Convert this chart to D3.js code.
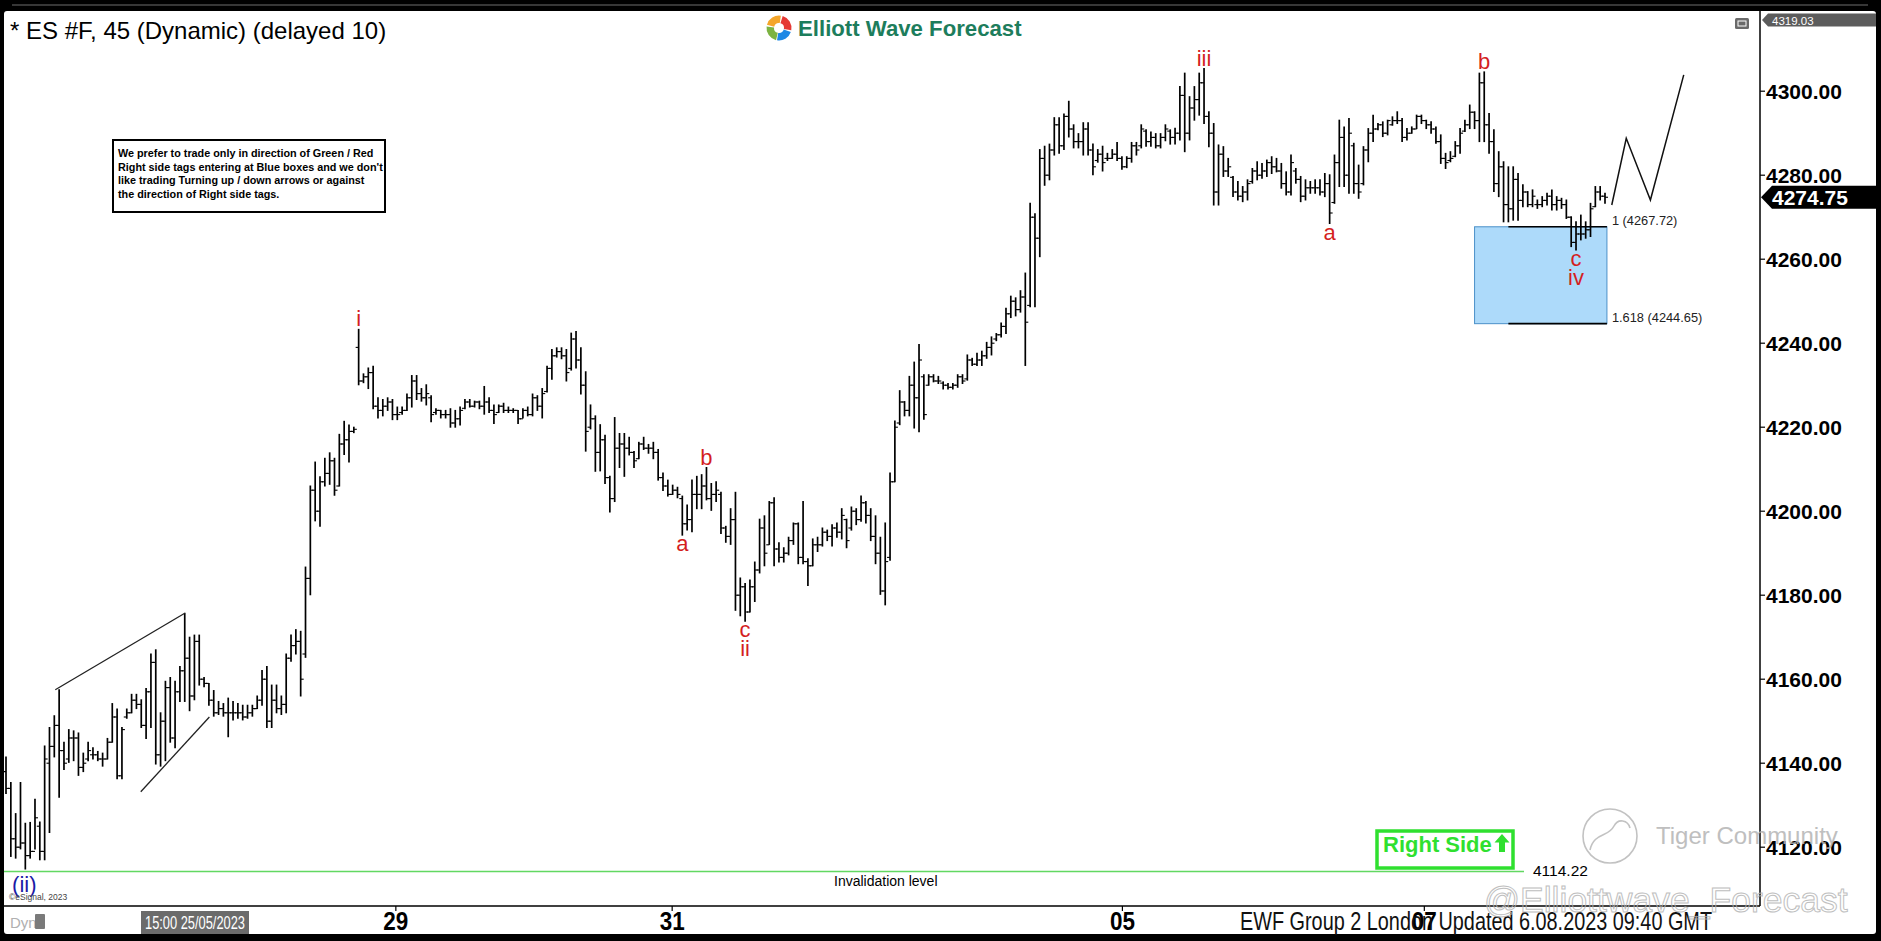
<!DOCTYPE html>
<html><head><meta charset="utf-8">
<script src="https://cdn.jsdelivr.net/npm/d3@7"></script>
<style>
body{margin:0;background:#000;overflow:hidden}
svg{display:block}
text{font-family:"Liberation Sans",Arial,sans-serif}
</style>
</head><body>
<svg id="c" width="1881" height="941"></svg>
<script>
// ---------- DATA ----------
const highs=[4141.5,4135.4,4128,4135.4,4125.7,4125.9,4131.4,4126,4144.1,4148.5,
4151.3,4157.5,4145,4148,4147.7,4147.2,4142.4,4145,4143.7,4142.8,
4142.4,4145.9,4154.2,4152.9,4148.5,4152.9,4156.4,4156.4,4155.1,4157.8,
4166,4167,4152,4159.5,4160.4,4159.5,4163,4175.7,4170,4170.5,
4170.5,4160.4,4159,4157.3,4154.7,4154.2,4155.5,4154.7,4154.2,4153.8,
4153.8,4153.8,4156,4162.1,4163,4158.6,4158.6,4156,4166,4170.5,
4171.8,4171.4,4186.7,4206,4211.7,4208.2,4212.6,4213.9,4212.6,4218.3,
4221.4,4220.5,4220,4243.3,4232.7,4234.1,4234.5,4227,4226.6,4227,
4226.6,4224.8,4224.8,4227.9,4232.3,4232.3,4229.2,4230.1,4227.5,4224.4,
4224,4224,4224.4,4224,4224.8,4226.6,4226.6,4226.2,4226.2,4229.7,
4227,4225.3,4225.3,4225.7,4224.8,4224.4,4224,4224.4,4224.8,4227.9,
4227.5,4229.2,4234.5,4238.5,4238.9,4238.9,4238.5,4242.4,4242.8,4238.9,
4233.2,4225.3,4222.7,4220.6,4218.1,4208.3,4222.3,4218.5,4218.5,4217.6,
4214.2,4216.4,4217.6,4215.9,4216.4,4214.7,4209.1,4207.4,4206.2,4205.7,
4203.6,4201.5,4207.4,4208.3,4208.7,4210.4,4206.6,4207,4204.5,4196.4,
4200.6,4204.5,4184.1,4182.8,4183.6,4187.9,4198.1,4198.9,4202.3,4203.2,
4192.5,4191.3,4193.8,4197.2,4197.2,4202.3,4188.7,4193.4,4193.8,4196,
4195.5,4196.8,4197.2,4200.6,4198.1,4201,4200.6,4203.6,4202.3,4200.6,
4198.9,4193.8,4197.2,4209.1,4221.5,4228.7,4226.1,4232.1,4235.5,4239.7,
4232.5,4232.5,4232.5,4232.1,4230.8,4230.4,4230.4,4232.5,4232.5,4237.2,
4236.4,4237.6,4238.1,4240.2,4241.5,4242.3,4244.8,4248.3,4251.2,4250.8,
4252.5,4256.7,4273.3,4270.8,4286.1,4286.9,4287.4,4293.7,4293.7,4294.6,
4297.6,4292,4289.9,4292.5,4292.5,4287.4,4286.1,4286.9,4285.2,4286.1,
4287.8,4284.4,4284.4,4287.8,4287.8,4292,4290.8,4290.3,4289.9,4289.9,
4292,4290.8,4291.2,4301.1,4304.3,4298.7,4301.1,4304.3,4305.4,4295.1,
4292.3,4287.2,4286.8,4284,4279.7,4278.5,4277.3,4278.9,4281.6,4283.2,
4282.8,4283.6,4284.4,4284,4282.8,4280.8,4284.8,4281.6,4279.7,4278.9,
4278.5,4278.9,4278.9,4280.4,4280.1,4284.8,4293.1,4291.5,4293.5,4287.6,
4282.4,4286.8,4291.1,4294.3,4292.3,4292.7,4293.1,4293.9,4295.1,4293.5,
4291.1,4291.5,4294.3,4294.3,4293.1,4292.7,4291.5,4289.6,4285.2,4285.6,
4288,4291.1,4293.1,4296.7,4295.1,4304.3,4304.6,4294.7,4290.8,4285.6,
4283.2,4282,4282,4280.4,4277.7,4276.1,4276.5,4274.1,4274.9,4275.7,
4276.5,4274.9,4274.5,4274.1,4270.1,4268.9,4270.5,4268.9,4273.3,4277.3,
4277.3,4275.7];
const lows=[4132.8,4117.8,4117.4,4119.6,4114.8,4117.4,4119.6,4117,4117,4123.5,
4141.5,4131.9,4138.5,4140.2,4140.6,4137.1,4138,4140.6,4141,4140.6,
4139.3,4141,4145,4136.3,4136.3,4150.7,4152,4153,4148.5,4145.9,
4148.5,4139.8,4139.3,4140.6,4145,4143.7,4154.7,4154.7,4152.5,4155.1,
4158.6,4158.2,4153.8,4151.2,4151.6,4151.2,4146.3,4150.3,4150.7,4150.3,
4150.7,4151.2,4153,4153.8,4148.5,4148.5,4152,4151.6,4152,4164.3,
4166,4156,4165.2,4180.1,4197.7,4196.4,4206,4206.4,4203.8,4206,
4213.5,4211.7,4218.7,4230.1,4230.6,4229.2,4224.4,4222.2,4222.7,4224,
4221.8,4221.8,4223.1,4224,4224.8,4226.6,4226.2,4225.3,4221.3,4223.1,
4222.2,4222.2,4220,4220,4220.5,4224.4,4224.8,4224.8,4224.4,4223.1,
4223.5,4220.9,4223.5,4223.5,4223.5,4223.5,4220.9,4222.2,4222.7,4222.7,
4224,4222.2,4228.4,4231.4,4236.7,4236.3,4231,4233.6,4234.1,4227.9,
4214.3,4219.6,4209.5,4209.6,4206.6,4199.8,4202.3,4210.4,4208.3,4213.4,
4210.4,4212.5,4214.7,4213.8,4212.5,4207.4,4204.9,4203.6,4204,4203.2,
4194.3,4195.5,4195.1,4200.6,4200.6,4202.7,4200.2,4202.3,4194.7,4192.6,
4192.1,4176.4,4175.1,4173.8,4176,4178.5,4185.3,4187,4192.1,4187,
4187.9,4187.9,4189.6,4192.1,4187.5,4187.5,4182.3,4187,4190.4,4191.7,
4193,4191.7,4193.8,4193.4,4191.3,4195.5,4196.8,4197.6,4197.2,4193,
4187.5,4180.2,4177.7,4188.3,4207,4220.6,4222.7,4222.7,4219.8,4218.9,
4221.9,4230,4230.8,4230.4,4229.1,4229.1,4229.1,4229.5,4230.4,4231.2,
4234.7,4234.7,4234.7,4236.4,4237.2,4240.6,4241.5,4242.3,4246.1,4246.5,
4247.4,4234.7,4248.7,4248.7,4260.6,4277.6,4278.9,4284.8,4285.2,4286.1,
4289.1,4286.5,4286.5,4284.8,4284.8,4280.1,4283.1,4281,4283.5,4284,
4283.5,4281.4,4281.8,4283.1,4284.8,4286.5,4286.9,4286.9,4286.5,4286.5,
4288.2,4287.4,4287.4,4288.4,4285.6,4288.4,4293.1,4294.3,4292.3,4286.8,
4272.9,4272.9,4279.7,4279.7,4274.9,4274.1,4273.7,4274.1,4278.1,4278.9,
4279.3,4279.7,4280.4,4280.8,4276.9,4275.3,4275.3,4278.1,4273.7,4274.1,
4275.7,4275.7,4275.3,4274.9,4268.5,4273.3,4277.3,4277.3,4275.7,4275.7,
4274.5,4277.7,4283.2,4288,4290.8,4289.2,4289.6,4291.9,4292.3,4288,
4288.4,4290,4291.1,4292.3,4291.1,4290,4287.6,4282.8,4281.6,4283.2,
4284.4,4285.2,4290.4,4291.1,4291.1,4288,4288,4285.2,4276.1,4274.9,
4268.9,4268.9,4269.3,4269.3,4272.5,4272.5,4272.5,4272.1,4272.5,4272.9,
4271.7,4271.7,4272.1,4269.7,4263,4262.2,4264.6,4265,4265.4,4272.5,
4274.1,4273.3];
const opens=[4138,4134,4122,4120,4121,4118,4119,4125,4119,4140,
4144,4149,4143,4141,4146,4146,4139,4141,4142,4142,
4141,4141,4145,4151,4137,4151,4152,4155,4154,4149,
4157,4164,4142,4150,4158,4146,4157,4162,4165,4156,
4169,4160,4159,4155,4152,4153,4152,4152,4152,4152,
4151,4152,4153,4155,4160,4150,4155,4153,4154,4165,
4168,4169,4166,4184,4205,4200,4207,4209,4212,4206,
4216,4217,4219,4239,4231,4232,4233,4225,4224,4225,
4226,4223,4223.5,4224,4227,4231,4228,4227,4227,4223.5,
4224,4223,4223,4221,4222,4224.5,4226,4225,4226,4225,
4226,4224,4223.5,4225,4224,4224,4224,4222,4224,4223,
4227,4225,4228.5,4234,4237,4238,4237,4234,4241,4236,
4230,4220,4222,4214,4217,4208,4203,4215,4216,4215,
4214,4212.5,4216,4215,4215,4214,4208,4206,4204,4205,
4203,4197,4198,4204,4204,4206,4203,4204,4204,4196,
4194,4198,4180,4182,4176,4182,4186,4196,4192,4202,
4191,4189,4190,4193,4197,4189,4188,4187,4192,4192,
4195,4194,4196,4195,4198,4196,4200,4198,4202,4199,
4194,4190,4181,4189,4207,4221,4226,4224,4230,4227,
4232,4230,4232,4231,4230.5,4230,4229.5,4230,4232,4231.5,
4236,4235,4236,4237,4239,4241,4242,4244,4247,4250,
4248,4251,4249,4270,4265,4284,4280,4286,4292,4287,
4294,4291,4288,4288,4291,4286,4283.5,4285,4284,4284,
4285,4284,4282,4284,4287,4287,4290.5,4288,4289,4287,
4289,4290.5,4289,4290,4299,4290,4296,4298,4302,4294,
4290,4276,4285,4281,4279.5,4276,4275,4276,4278.5,4281,
4280,4281,4283,4282,4281,4278,4276,4281,4279,4275,
4277,4277,4277,4276,4278,4273.5,4283,4289,4280,4287,
4278,4278,4286,4290,4291,4292,4290,4292,4293,4293,
4289,4290,4291,4294,4293,4292,4291,4288,4284,4283.5,
4284.5,4287,4290.5,4292,4295,4293,4302,4292,4288,4278,
4282,4273,4272,4279,4274,4276,4273,4273,4273,4274,
4275,4273,4274,4273,4270,4264,4266,4266,4267,4272.5,
4276,4275];
const closes=[4134,4122,4120,4121,4118,4119,4127,4119,4141,4144,
4149,4143,4140,4146,4146,4139,4140,4143,4142,4141,
4141,4145,4151,4137,4148,4152,4155,4154,4149,4157,
4164,4142,4150,4158,4146,4157,4162,4165,4156,4169,
4160,4159,4155,4152,4153,4152,4152,4152,4152,4151,
4152,4153,4155,4160,4150,4155,4153,4154,4165,4168,
4169,4160,4184,4205,4200,4207,4209,4212,4205,4216,
4217,4219,4219.5,4231,4232,4233,4225,4224,4225,4226,
4223,4223,4224,4227,4231,4228,4227,4228,4223,4224,
4223,4223,4221,4222,4224,4226,4225,4226,4225,4226,
4224,4223,4225,4224,4224,4224,4222,4224,4223,4227,
4225,4228,4234,4237,4238,4237,4233,4241,4236,4230,
4219,4222,4214,4217,4208,4203,4215,4216,4215,4214,
4212,4216,4215,4215,4214,4208,4206,4204,4205,4204,
4197,4198,4204,4204,4206,4203,4204,4205,4196,4194,
4198,4180,4182,4176,4182,4186,4196,4190,4202,4191,
4189,4190,4193,4197,4189,4188,4187,4192,4192,4195,
4194,4196,4195,4199,4193,4200,4198,4202,4199,4194,
4190,4181,4188,4207,4220,4226,4224,4230,4227,4236,
4223,4232,4231,4231,4230,4229.5,4230,4232,4231,4236,
4235,4236,4237,4239,4240,4242,4244,4247,4250,4248,
4251,4245,4270,4265,4284,4280,4286,4292,4287,4294,
4291,4288,4288,4291,4286,4282,4285,4283,4284,4285,
4284,4282,4284,4287,4286,4291,4288,4289,4287,4289,
4291,4289,4290,4299,4290,4296,4298,4302,4294,4290,
4276,4285,4281,4282,4276,4275,4276,4278,4281,4280,
4281,4283,4282,4281,4278,4276,4283,4279,4275,4277,
4277,4277,4276,4278,4271,4283,4289,4280,4290,4278,
4276,4286,4290,4291,4292,4290,4293,4293,4293,4289,
4290,4291,4294,4293,4292,4291,4288,4284,4283,4284,
4287,4290,4292,4295,4293,4302,4292,4288,4278,4282,
4273,4272,4279,4274,4276,4273,4275,4273,4274,4275,
4273,4274,4273,4270,4264,4266,4266,4267,4272,4276,
4275,4274.75];

const priceTicks=[4120,4140,4160,4180,4200,4220,4240,4260,4280,4300];
const dateLabels=["29","31","05","07"];
const dateBars=[80.7,137.9,231.1,293.6];

// wave labels (red, minor degree): bar index, text, anchored at high or low, stacked row
const minorLabels=[
 {bar:73,text:"i",at:"high",row:0},
 {bar:140,text:"a",at:"low",row:0},
 {bar:145,text:"b",at:"high",row:0},
 {bar:153,text:"c",at:"low",row:0},
 {bar:153,text:"ii",at:"low",row:1},
 {bar:248,text:"iii",at:"high",row:0},
 {bar:274,text:"a",at:"low",row:0},
 {bar:306,text:"b",at:"high",row:0},
 {bar:325,text:"c",at:"low",row:0},
 {bar:325,text:"iv",at:"low",row:1}
];
const intermediateLabels=[{bar:4,text:"(ii)",at:"low",row:0}];

const wedgeUpper=[{bar:10.2,p:4157.5},{bar:37,p:4175.7}];
const wedgeLower=[{bar:27.9,p:4133.2},{bar:42.1,p:4151.0}];
const projection=[{bar:332.4,p:4272.9},{bar:335.4,p:4288.8},{bar:340.4,p:4274.1},{bar:347.3,p:4303.9}];
const fibLevels=[{ratio:"1",p:4267.72},{ratio:"1.618",p:4244.65}];
const blueBoxBars=[304,331.4];
const fibLineStartBar=311;
const invalidation=4114.22;
const lastPrice=4274.75;
const topPrice="4319.03";

// ---------- SCALES ----------
const svg=d3.select("#c");
const W=1881,H=941;
const axisX=1760, axisY=906;
const x=d3.scaleLinear().domain([0,331]).range([6,1605]);
const y=d3.scaleLinear().domain([4120,4300]).range([847.2,91.2]);

// frame
svg.append("rect").attr("width",W).attr("height",H).attr("fill","#000");
svg.append("line").attr("x1",12).attr("x2",1868).attr("y1",5).attr("y2",5).attr("stroke","#4a4a4a").attr("stroke-width",1.5);
svg.append("rect").attr("x",4).attr("y",11).attr("width",1872).attr("height",923).attr("rx",3).attr("fill","#fff");

const defs=svg.append("defs");
defs.append("clipPath").attr("id","plot").append("rect").attr("x",4).attr("y",11).attr("width",axisX-4).attr("height",axisY-11);

// title
svg.append("text").attr("x",10).attr("y",39).attr("font-size",24).attr("fill","#000").text("* ES #F, 45 (Dynamic) (delayed 10)");

// logo
const lg=svg.append("g").attr("transform","translate(779,28)");
const arc=d3.arc().innerRadius(5).outerRadius(12.5);
[["#7cb342",-2.9,-1.45],["#f4a62a",-1.3,0.15],["#e53935",0.3,1.75],["#1e88e5",1.9,3.3]].forEach(a=>{
  lg.append("path").attr("d",arc({startAngle:a[1],endAngle:a[2]})).attr("fill",a[0]);
});
svg.append("text").attr("x",798).attr("y",36).attr("font-size",22.2).attr("font-weight","bold").attr("fill","#1d7d5c").text("Elliott Wave Forecast");

// note box
svg.append("rect").attr("x",113).attr("y",140).attr("width",272).attr("height",72).attr("fill","#fff").attr("stroke","#000").attr("stroke-width",2);
["We prefer to trade only in direction of Green / Red",
 "Right side tags entering at Blue boxes and we don't",
 "like trading Turning up / down arrows or against",
 "the direction of Right side tags."].forEach((t,i)=>{
  svg.append("text").attr("x",118).attr("y",157+i*13.5).attr("font-size",10.8).attr("font-weight","bold").attr("fill","#000").text(t);
});

const plotG=svg.append("g").attr("clip-path","url(#plot)");

// invalidation line
plotG.append("line").attr("x1",4).attr("x2",1524).attr("y1",y(invalidation)).attr("y2",y(invalidation)).attr("stroke","#62d862").attr("stroke-width",1.6);
svg.append("text").attr("x",1533).attr("y",y(invalidation)+5).attr("font-size",15.5).attr("fill","#000").text(invalidation.toFixed(2));
svg.append("text").attr("x",834).attr("y",886).attr("font-size",14).attr("fill","#000").text("Invalidation level");

// blue box
const bx0=x(blueBoxBars[0]),bx1=x(blueBoxBars[1]);
plotG.append("rect").attr("x",bx0).attr("y",y(fibLevels[0].p)).attr("width",bx1-bx0).attr("height",y(fibLevels[1].p)-y(fibLevels[0].p))
  .attr("fill","#addafa").attr("stroke","#4a90c8").attr("stroke-width",1);
fibLevels.forEach(f=>{
  plotG.append("line").attr("x1",x(fibLineStartBar)).attr("x2",bx1).attr("y1",y(f.p)).attr("y2",y(f.p)).attr("stroke","#000").attr("stroke-width",1.6);
  svg.append("text").attr("x",bx1+5).attr("y",y(f.p)-2).attr("font-size",12.8).attr("fill","#222").text(`${f.ratio} (${f.p.toFixed(2)})`);
});

// bars
const bars=plotG.append("g").attr("stroke","#000");
highs.forEach((h,i)=>{
  const xi=x(i);
  bars.append("line").attr("x1",xi).attr("x2",xi).attr("y1",y(h)-0.5).attr("y2",y(lows[i])+0.5).attr("stroke-width",1.7);
  bars.append("line").attr("x1",xi-3).attr("x2",xi).attr("y1",y(opens[i])).attr("y2",y(opens[i])).attr("stroke-width",1.1);
  bars.append("line").attr("x1",xi).attr("x2",xi+3).attr("y1",y(closes[i])).attr("y2",y(closes[i])).attr("stroke-width",1.1);
});

// wedge + projection lines
const ln=d3.line().x(d=>x(d.bar)).y(d=>y(d.p));
[wedgeUpper,wedgeLower].forEach(w=>plotG.append("path").attr("d",ln(w)).attr("fill","none").attr("stroke","#222").attr("stroke-width",1.3));
plotG.append("path").attr("d",ln(projection)).attr("fill","none").attr("stroke","#111").attr("stroke-width",1.5);

// wave labels
function drawLabels(list,color,size){
  list.forEach(l=>{
    const yy = l.at==="high" ? y(highs[l.bar])-3 : y(lows[l.bar])+16+l.row*19;
    svg.append("text").attr("x",x(l.bar)).attr("y",yy).attr("text-anchor","middle").attr("font-size",size).attr("fill",color).text(l.text);
  });
}
drawLabels(minorLabels,"#d41f1f",22);
intermediateLabels.forEach(l=>{
  svg.append("text").attr("x",x(l.bar)-1).attr("y",y(lows[l.bar])+23).attr("text-anchor","middle").attr("font-size",22).attr("fill","#1b1ba6").text(l.text);
});
svg.append("text").attr("x",9).attr("y",900).attr("font-size",8.5).attr("fill","#444").text("©eSignal, 2023");

// axes lines
svg.append("line").attr("x1",axisX).attr("x2",axisX).attr("y1",11).attr("y2",axisY).attr("stroke","#000").attr("stroke-width",1.5);
svg.append("line").attr("x1",4).attr("x2",axisX).attr("y1",axisY).attr("y2",axisY).attr("stroke","#000").attr("stroke-width",1.5);

// price axis
priceTicks.forEach(t=>{
  svg.append("line").attr("x1",axisX).attr("x2",axisX+5).attr("y1",y(t)).attr("y2",y(t)).attr("stroke","#000").attr("stroke-width",1.2);
  svg.append("text").attr("x",axisX+6).attr("y",y(t)+7.5).attr("font-size",21).attr("font-weight","bold").attr("fill","#000").text(t.toFixed(2));
});
// top price tag
svg.append("path").attr("d",`M${axisX+2},20 L${axisX+8},13.5 L1876,13.5 L1876,26.5 L${axisX+8},26.5 Z`).attr("fill","#5c5c5c");
svg.append("text").attr("x",axisX+12).attr("y",24.5).attr("font-size",11.5).attr("fill","#fff").text(topPrice);
// last price tag
const ly=y(lastPrice);
svg.append("path").attr("d",`M${axisX+1},${ly} L${axisX+12},${ly-11.5} L1876,${ly-11.5} L1876,${ly+11.5} L${axisX+12},${ly+11.5} Z`).attr("fill","#000");
svg.append("text").attr("x",axisX+12).attr("y",ly+7.5).attr("font-size",21).attr("font-weight","bold").attr("fill","#fff").text(lastPrice.toFixed(2));
// small window icon
svg.append("rect").attr("x",1735).attr("y",18).attr("width",14).attr("height",11).attr("rx",1.5).attr("fill","#6a6a6a");
svg.append("rect").attr("x",1738).attr("y",21).attr("width",8).attr("height",5).attr("fill","none").attr("stroke","#fff").attr("stroke-width",1);

// date axis
dateLabels.forEach((d,i)=>{
  const xx=x(dateBars[i]);
  svg.append("line").attr("x1",xx).attr("x2",xx).attr("y1",axisY).attr("y2",axisY+5).attr("stroke","#000").attr("stroke-width",1.2);
  svg.append("text").attr("x",xx).attr("y",930).attr("text-anchor","middle").attr("font-size",25).attr("font-weight","bold")
    .attr("textLength",25).attr("lengthAdjust","spacingAndGlyphs").attr("fill","#000").text(d);
});
svg.append("rect").attr("x",141).attr("y",911).attr("width",108).attr("height",23).attr("fill","#6b6b6b");
svg.append("text").attr("x",145).attr("y",929).attr("font-size",18).attr("textLength",100).attr("lengthAdjust","spacingAndGlyphs").attr("fill","#fff").text("15:00 25/05/2023");
svg.append("text").attr("x",10).attr("y",928).attr("font-size",15).attr("fill","#b0b0b0").text("Dyn");
svg.append("rect").attr("x",35).attr("y",914).attr("width",10).attr("height",15).attr("rx",1).attr("fill","#7a7a7a");
svg.append("text").attr("x",1240).attr("y",930).attr("font-size",25).attr("textLength",472).attr("lengthAdjust","spacingAndGlyphs").attr("fill","#111")
  .text("EWF Group 2 London Updated 6.08.2023 09:40 GMT");

// Right Side tag
svg.append("rect").attr("x",1377).attr("y",831).attr("width",136).attr("height",37).attr("fill","#fff").attr("stroke","#2fe02f").attr("stroke-width",3.5);
svg.append("text").attr("x",1383).attr("y",852).attr("font-size",22).attr("font-weight","bold").attr("fill","#2fe02f").text("Right Side");
svg.append("path").attr("d","M1502,834 L1509.5,842.5 L1505,842.5 L1505,852 L1499,852 L1499,842.5 L1494.5,842.5 Z").attr("fill","#2fe02f");

// watermarks
const wm=svg.append("g").attr("opacity",0.85);
wm.append("circle").attr("cx",1610).attr("cy",836).attr("r",27).attr("fill","none").attr("stroke","#b8b8b8").attr("stroke-width",1.6);
wm.append("path").attr("d","M1590,850 C1594,832 1608,838 1614,826 C1618,818 1628,820 1630,828").attr("fill","none").attr("stroke","#b8b8b8").attr("stroke-width",1.6);
wm.append("text").attr("x",1656).attr("y",844).attr("font-size",24).attr("fill","#b4b4b4").text("Tiger Community");
wm.append("text").attr("x",1484).attr("y",912).attr("font-size",35.5).attr("fill","none").attr("stroke","#b4b4b4").attr("stroke-width",1).text("@Elliottwave_Forecast");
</script>
</body></html>
